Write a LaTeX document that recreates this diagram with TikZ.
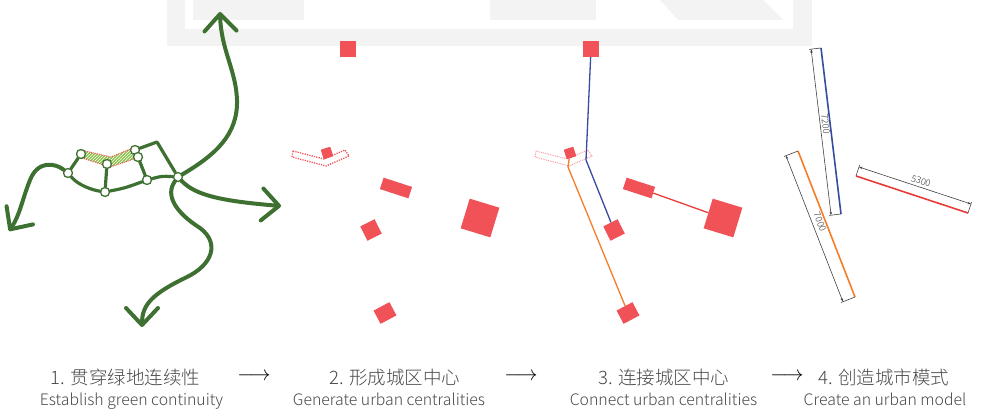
\documentclass[tikz,border=0pt]{standalone}
\usepackage{fontspec}
\IfFontExistsTF{Noto Sans CJK SC Light}{\setmainfont{Noto Sans CJK SC Light}}{\setmainfont{Noto Sans CJK SC}}
\usetikzlibrary{arrows.meta,patterns}
\definecolor{gr}{RGB}{62,112,50}
\definecolor{lgr}{RGB}{140,195,75}
\definecolor{sqred}{RGB}{240,82,88}
\definecolor{bl}{RGB}{55,75,160}
\definecolor{orng}{RGB}{245,125,40}
\definecolor{lnred}{RGB}{232,60,55}
\definecolor{bgg}{RGB}{243,243,243}
\definecolor{txt}{RGB}{72,72,72}
\definecolor{pink}{RGB}{245,150,155}
\tikzset{
  gline/.style={draw=gr, line width=4pt, line cap=round, line join=round},
  garrow/.style={gline, -{Straight Barb[length=17pt,width=32pt,round]}},
  gnode/.style={circle, draw=gr, fill=white, line width=1.3pt, inner sep=0pt, minimum size=9pt},
  blk/.style={fill=sqred, inner sep=0pt, draw=none},
  dimline/.style={draw=black!75, line width=0.6pt, {Stealth[length=3.5pt,width=2.5pt]}-{Stealth[length=3.5pt,width=2.5pt]}},
  extline/.style={draw=black!75, line width=0.6pt},
  dimtxt/.style={font=\fontsize{9.2}{10}\selectfont, text=black!80, inner sep=0pt},
  captxt/.style={font=\fontsize{18.5}{20}\selectfont, text=txt, inner sep=0pt, anchor=base},
  engtxt/.style={font=\fontsize{15.8}{18}\selectfont, text=txt, inner sep=0pt, anchor=base},
  arrtxt/.style={font=\fontsize{20}{20}\selectfont, text=black, inner sep=0pt},
  chev/.style={draw=sqred, line width=1.3pt, dash pattern=on 1.2pt off 1.2pt},
  chevlight/.style={draw=pink, line width=0.9pt, dash pattern=on 0.9pt off 0.9pt},
}
\begin{document}
\begin{tikzpicture}[x=1pt,y=-1pt]
\useasboundingbox (0,0) rectangle (981,412);
% background watermark
\fill[bgg] (167,0) rectangle (812,46);
\fill[white] (185,0) rectangle (793,29);
\fill[bgg] (193,0) rectangle (304,20);
\fill[bgg] (490,0) rectangle (596,20);
\fill[bgg] (660,0) -- (763,0) -- (783,20) -- (678,20) -- cycle;

% ---------- panel 1 ----------
\fill[lgr] (85,151) -- (111,157) -- (133,148) -- (137,158) -- (110,167) -- (82,158) -- cycle;
\fill[pattern=north east lines, pattern color=white] (85,151) -- (111,157) -- (133,148) -- (137,158) -- (110,167) -- (82,158) -- cycle;
\draw[chev, line width=1pt, dash pattern=on 1pt off 1pt] (85,151) -- (111,157) -- (133,148) -- (137,158) -- (110,167) -- (82,158) -- cycle;

\node[gnode] (A) at (81,154) {};
\node[gnode] (B) at (68,173) {};
\node[gnode] (C) at (107,164) {};
\node[gnode] (D) at (105,192) {};
\node[gnode] (E) at (135,150) {};
\node[gnode] (F) at (138,157) {};
\node[gnode] (G) at (147,180) {};
\node[gnode] (H) at (178,177) {};
\coordinate (K) at (157,142);

\draw[gline, line width=3.2pt] (A) -- (B);
\draw[gline, line width=3.2pt] (B) .. controls (78,185) and (92,190) .. (D);
\draw[gline, line width=3.2pt] (D) -- (C);
\draw[gline, line width=3.2pt] (D) .. controls (125,188) .. (G);
\draw[gline, line width=3.2pt] (G) .. controls (162,176) .. (H);
\draw[gline, line width=3.2pt] (F) -- (G);
\draw[gline, line width=3.2pt] (E) -- (K) -- (H);

\draw[garrow] (H) .. controls (215,155) and (238,135) .. (237,100) .. controls (236,70) and (221,50) .. (220,12);
\draw[garrow] (H) .. controls (195,195) and (220,201) .. (281,206);
\draw[garrow] (H) .. controls (165,195) and (175,212) .. (200,228) .. controls (220,243) and (213,265) .. (185,278) .. controls (152,294) and (142,305) .. (142,327);
\draw[garrow] (B) .. controls (55,163) and (38,160) .. (30,180) .. controls (22,200) and (20,215) .. (9,231);

% ---------- panel 2 ----------
\draw[chev] (293,151) -- (324,159) -- (345,150) -- (349,156) -- (326,166) -- (292,157) -- cycle;
\node[blk, minimum size=16pt] (p2top) at (348,49) {};
\node[blk, minimum size=10pt, rotate=18] (p2small) at (327,153) {};
\node[blk, minimum width=30pt, minimum height=12pt, rotate=-18] (p2rect) at (396,188) {};
\node[blk, minimum size=16pt, rotate=27] (p2sq) at (371,230) {};
\node[blk, minimum size=31pt, rotate=-17] (p2big) at (480,218) {};
\node[blk, minimum width=18pt, minimum height=15pt, rotate=28] (p2bot) at (385,313) {};

% ---------- panel 3 ----------
\draw[chevlight] (536,151) -- (567,159) -- (588,150) -- (592,156) -- (569,166) -- (535,157) -- cycle;
\node[blk, minimum size=16pt] (p3top) at (591,49) {};
\node[blk, minimum size=10pt, rotate=18] (p3small) at (570,153) {};
\node[blk, minimum width=30pt, minimum height=12pt, rotate=-18] (p3rect) at (639,188) {};
\node[blk, minimum size=16pt, rotate=27] (p3sq) at (614,230) {};
\node[blk, minimum size=31pt, rotate=-17] (p3big) at (723,218) {};
\node[blk, minimum width=18pt, minimum height=15pt, rotate=28] (p3bot) at (628,313) {};
\coordinate (p3bend) at (586,160);
\coordinate (p3vert) at (568,167);
\draw[bl, line width=1.3pt] (p3top) -- (p3bend) -- (p3sq);
\draw[orng, line width=1.3pt] (p3small) -- (p3vert) -- (p3bot);
\draw[lnred, line width=1.3pt] (p3rect) -- (p3big);

% ---------- panel 4 ----------
\coordinate (b1) at (821,48);   \coordinate (b2) at (841,214);
\coordinate (bd1) at (811.1,49.2); \coordinate (bd2) at (831.1,215.2);
\coordinate (be1) at (809.1,49.4); \coordinate (be2) at (829.1,215.4);
\draw[bl, line width=1.6pt] (b1) -- (b2);
\draw[extline] (b1) -- (be1);
\draw[extline] (b2) -- (be2);
\draw[dimline] (bd1) -- (bd2);
\node[dimtxt, rotate=-83] (t7200) at (825.5,124) {7200};

\coordinate (o1) at (798,151);   \coordinate (o2) at (855,297);
\coordinate (od1) at (785.9,155.7); \coordinate (od2) at (842.9,301.7);
\coordinate (oe1) at (784.0,156.5); \coordinate (oe2) at (841.0,302.5);
\draw[orng, line width=1.6pt] (o1) -- (o2);
\draw[extline] (o1) -- (oe1);
\draw[extline] (o2) -- (oe2);
\draw[dimline] (od1) -- (od2);
\node[dimtxt, rotate=-69] (t7000) at (820,222) {7000};

\coordinate (r1) at (856,176);   \coordinate (r2) at (968,213);
\coordinate (rd1) at (859,167); \coordinate (rd2) at (971,204);
\coordinate (re1) at (859.6,165.1); \coordinate (re2) at (971.6,202.1);
\draw[lnred, line width=1.6pt] (r1) -- (r2);
\draw[extline] (r1) -- (re1);
\draw[extline] (r2) -- (re2);
\draw[dimline] (rd1) -- (rd2);
\node[dimtxt, rotate=-18] (t5300) at (921,181) {5300};

% ---------- captions ----------
\node[captxt] (c1a) at (125.5,384) {1. 贯穿绿地连续性};
\node[engtxt] (c1b) at (131.5,405) {Establish green continuity};
\node[captxt] (c2a) at (395,384) {2. 形成城区中心};
\node[engtxt] (c2b) at (389,405) {Generate urban centralities};
\node[captxt] (c3a) at (664,384) {3. 连接城区中心};
\node[engtxt] (c3b) at (663.5,405) {Connect urban centralities};
\node[captxt] (c4a) at (884,384) {4. 创造城市模式};
\node[engtxt] (c4b) at (885,405) {Create an urban model};
\node[arrtxt] (ar1) at (254,377) {$\longrightarrow$};
\node[arrtxt] (ar2) at (521,377) {$\longrightarrow$};
\node[arrtxt] (ar3) at (787,377) {$\longrightarrow$};
\end{tikzpicture}
\end{document}
